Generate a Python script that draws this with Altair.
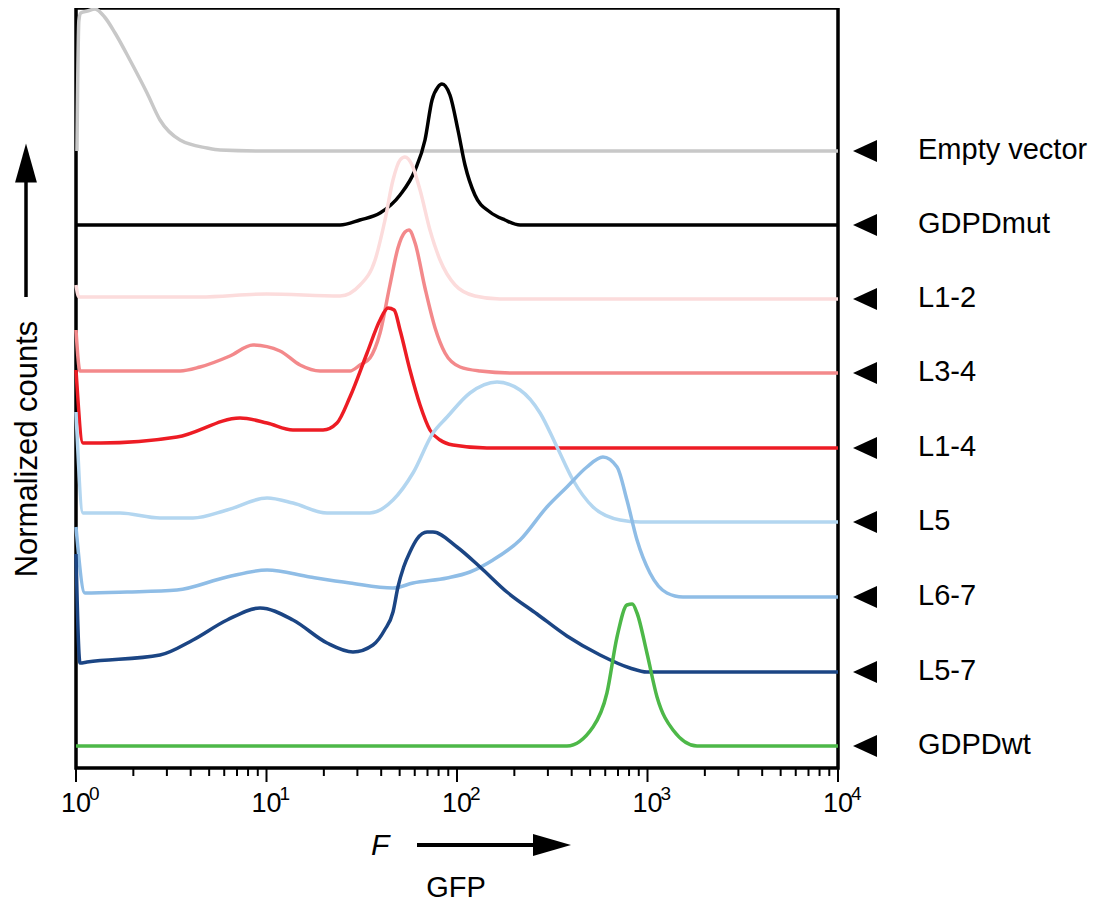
import altair as alt
import pandas as pd

# ---------------- data ----------------
series_names = ["Empty vector", "GDPDmut", "L1-2", "L3-4", "L1-4", "L5", "L6-7", "L5-7", "GDPDwt"]
series_colors = ["#c8c8c8", "#000000", "#fcdcdc", "#f3898b", "#ed1c24",
                 "#b3d6f0", "#8fbde6", "#1b4584", "#4db848"]
# vertical offset of every histogram (normalized-count units)
series_offsets = [617, 543, 469, 395, 320, 246, 171, 96, 22]

# GFP fluorescence positions given as log10(F); counts are normalized heights
empty_logF = [0.005, 0.015, 0.025, 0.06, 0.1, 0.15, 0.205, 0.283, 0.373, 0.441, 0.546, 0.688, 0.756, 1.0, 4.0]
empty_counts = [0, 130, 138, 140, 142, 134, 118, 91, 58, 31, 11, 3, 1, 0, 0]

mut_logF = [0, 1.386, 1.49, 1.596, 1.701, 1.78, 1.832, 1.869, 1.9, 1.921, 1.963, 2.005, 2.042, 2.094, 2.173, 2.252, 2.331, 4.0]
mut_counts = [0, 0, 5, 12, 30, 55, 85, 125, 138, 141, 130, 95, 60, 30, 13, 5, 0, 0]

l12_logF = [0, 0.015, 0.65, 1.0, 1.386, 1.491, 1.57, 1.622, 1.664, 1.701, 1.727, 1.764, 1.806, 1.858, 1.911, 1.99, 2.094, 2.226, 4.0]
l12_counts = [14, 2, 2, 5, 3, 14, 39, 79, 119, 139, 142, 134, 109, 69, 39, 14, 3, 0, 0]

l34_logF = [0, 0.021, 0.546, 0.651, 0.808, 0.929, 1.071, 1.176, 1.281, 1.438, 1.491, 1.543, 1.596, 1.648, 1.69, 1.727, 1.748, 1.78, 1.832, 1.885, 1.937, 2.016, 2.121, 2.3, 4.0]
l34_counts = [43, 2, 2, 6, 17, 28, 22, 8, 2, 2, 8, 15, 40, 88, 125, 141, 143, 130, 85, 45, 20, 6, 2, 0, 0]

l14_logF = [0, 0.037, 0.13, 0.53, 0.861, 1.003, 1.139, 1.297, 1.37, 1.438, 1.528, 1.596, 1.638, 1.67, 1.701, 1.753, 1.806, 1.858, 1.911, 1.979, 2.157, 4.0]
l14_counts = [78, 5, 5, 11, 30, 25, 18, 18, 25, 51, 95, 128, 140, 138, 118, 78, 43, 18, 8, 3, 0, 0]

l5_logF = [0, 0.037, 0.231, 0.441, 0.614, 0.793, 1.003, 1.139, 1.318, 1.543, 1.664, 1.769, 1.874, 1.948, 2.068, 2.21, 2.331, 2.436, 2.525, 2.609, 2.714, 2.856, 2.961, 4.0]
l5_counts = [110, 9, 9, 4, 4, 12, 24, 19, 9, 9, 22, 49, 89, 105, 129, 140, 132, 109, 75, 42, 15, 2, 0, 0]

l67_logF = [0, 0.047, 0.268, 0.53, 0.793, 1.003, 1.228, 1.438, 1.664, 1.769, 1.948, 2.068, 2.189, 2.331, 2.472, 2.577, 2.682, 2.766, 2.84, 2.892, 2.945, 3.013, 3.102, 3.186, 4.0]
l67_counts = [70, 4, 5, 7, 20, 27, 20, 14, 9, 14, 19, 25, 37, 57, 90, 110, 130, 140, 130, 97, 57, 24, 4, 0, 0]

l57_logF = [0, 0.021, 0.058, 0.441, 0.614, 0.793, 0.966, 1.139, 1.318, 1.454, 1.559, 1.62, 1.664, 1.69, 1.72, 1.753, 1.79, 1.843, 1.874, 2.0, 2.121, 2.262, 2.42, 2.577, 2.751, 2.908, 2.997, 4.0]
l57_counts = [118, 9, 10, 17, 32, 52, 64, 52, 29, 20, 27, 42, 60, 85, 105, 120, 133, 140, 140, 125, 105, 80, 58, 36, 17, 4, 0, 0]

wt_logF = [0, 2.577, 2.714, 2.787, 2.84, 2.892, 2.92, 2.945, 2.997, 3.05, 3.134, 3.26, 4.0]
wt_counts = [0, 0, 19, 53, 109, 141, 142, 133, 93, 49, 16, 0, 0]

series_logF = [empty_logF, mut_logF, l12_logF, l34_logF, l14_logF, l5_logF, l67_logF, l57_logF, wt_logF]
series_counts = [empty_counts, mut_counts, l12_counts, l34_counts, l14_counts, l5_counts, l67_counts, l57_counts, wt_counts]

major_ticks = [1, 10, 100, 1000, 10000]
major_exps = ["0", "1", "2", "3", "4"]
minor_ticks = [m * 10 ** k for k in range(4) for m in range(2, 10)]

FONT = "Liberation Sans"

xscale = alt.Scale(type="log", domain=[1, 10000], nice=False)
yscale = alt.Scale(domain=[0, 760], nice=False, zero=False)

layers = []
for name, color, off, lx, cy in zip(series_names, series_colors, series_offsets, series_logF, series_counts):
    df = pd.DataFrame({"F": [10 ** v for v in lx], "y": [off + c for c in cy], "i": list(range(len(lx)))})
    layers.append(
        alt.Chart(df).mark_line(color=color, strokeWidth=3.5, interpolate="monotone").encode(
            x=alt.X("F:Q", scale=xscale, axis=None),
            y=alt.Y("y:Q", scale=yscale, axis=None),
            order="i:O",
        )
    )

# axis ticks
df_major = pd.DataFrame({"v": major_ticks, "e": major_exps, "b": ["10"] * 5})
df_minor = pd.DataFrame({"v": minor_ticks})
layers.append(
    alt.Chart(df_major).mark_rule(color="black", strokeWidth=2).encode(
        x=alt.X("v:Q", scale=xscale), y=alt.value(760), y2=alt.value(774))
)
layers.append(
    alt.Chart(df_minor).mark_rule(color="black", strokeWidth=2).encode(
        x=alt.X("v:Q", scale=xscale), y=alt.value(760), y2=alt.value(768))
)
layers.append(
    alt.Chart(df_major).mark_text(font=FONT, fontSize=27, align="center", baseline="alphabetic", color="black").encode(
        x=alt.X("v:Q", scale=xscale), y=alt.value(804), text="b:N")
)
layers.append(
    alt.Chart(df_major).mark_text(font=FONT, fontSize=19, align="left", baseline="alphabetic", dx=13, color="black").encode(
        x=alt.X("v:Q", scale=xscale), y=alt.value(792), text="e:N")
)

# right-hand labels with triangles
df_lab = pd.DataFrame({"name": series_names, "b": series_offsets})
layers.append(
    alt.Chart(df_lab).mark_point(shape="M-1,0L1,-0.92L1,0.92Z", size=576, filled=True, color="black", opacity=1, strokeWidth=0).encode(
        x=alt.value(789), y=alt.Y("b:Q", scale=yscale))
)
layers.append(
    alt.Chart(df_lab).mark_text(font=FONT, fontSize=29, align="left", baseline="middle", dy=-1, color="black").encode(
        x=alt.value(842), y=alt.Y("b:Q", scale=yscale), text="name:N")
)

# x title: F -> and GFP
one = pd.DataFrame({"k": [0]})
layers.append(
    alt.Chart(pd.DataFrame({"t": ["F"]})).mark_text(font=FONT, fontSize=30, fontStyle="italic", align="left", baseline="alphabetic", color="black").encode(
        x=alt.value(295), y=alt.value(847), text="t:N")
)
layers.append(
    alt.Chart(one).mark_rule(color="black", strokeWidth=4).encode(
        x=alt.value(341), x2=alt.value(462), y=alt.value(837))
)
layers.append(
    alt.Chart(one).mark_point(shape="M-1,-0.58L1,0L-1,0.58Z", size=1444, filled=True, color="black", opacity=1, strokeWidth=0).encode(
        x=alt.value(476), y=alt.value(837))
)
layers.append(
    alt.Chart(pd.DataFrame({"t": ["GFP"]})).mark_text(font=FONT, fontSize=29, align="center", baseline="alphabetic", color="black").encode(
        x=alt.value(380), y=alt.value(889), text="t:N")
)

# y title: Normalized counts with arrow
layers.append(
    alt.Chart(pd.DataFrame({"t": ["Normalized counts"]})).mark_text(font=FONT, fontSize=31, angle=270, align="center", baseline="alphabetic", color="black").encode(
        x=alt.value(-39), y=alt.value(441), text="t:N")
)
layers.append(
    alt.Chart(one).mark_rule(color="black", strokeWidth=3.5).encode(
        x=alt.value(-50), y=alt.value(172), y2=alt.value(289))
)
layers.append(
    alt.Chart(one).mark_point(shape="M0,-1L0.56,1L-0.56,1Z", size=1521, filled=True, color="black", opacity=1, strokeWidth=0).encode(
        x=alt.value(-50), y=alt.value(155))
)

chart = alt.layer(*layers).properties(
    width=762,
    height=760,
    padding={"left": 68, "top": 0, "right": 250, "bottom": 136},
    autosize=alt.AutoSizeParams(type="none"),
).configure(
    font=FONT,
    view=alt.ViewConfig(stroke="black", strokeWidth=3.5),
)

chart.save("out.html", embed_options={"renderer": "svg", "actions": False})
